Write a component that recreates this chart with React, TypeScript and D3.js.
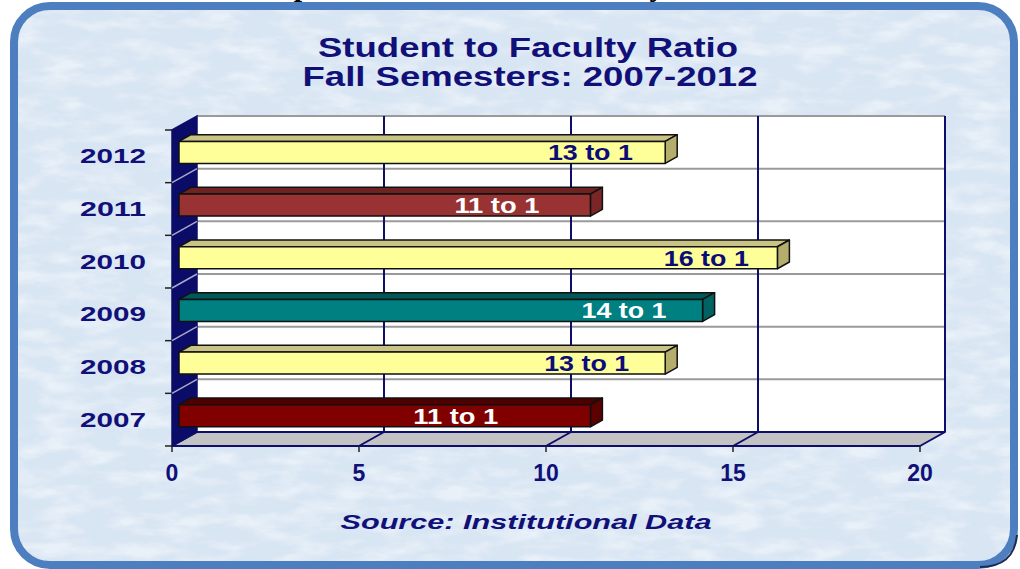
import React from "react";
import * as d3 from "d3";

const years = ["2012", "2011", "2010", "2009", "2008", "2007"];
const ratios = [13, 11, 16, 14, 13, 11];
const barLabels = ["13 to 1", "11 to 1", "16 to 1", "14 to 1", "13 to 1", "11 to 1"];
const labelCenters = [11.0, 8.5, 14.1, 11.9, 10.9, 7.4];
const xTicks = [0, 5, 10, 15, 20];
const titleLines = ["Student to Faculty Ratio", "Fall Semesters: 2007-2012"];
const sourceText = "Source:  Institutional  Data";

const frontColors = ["#ffff99", "#993333", "#ffff99", "#008080", "#ffff99", "#800000"];
const topColors = ["#c9c386", "#6e2222", "#c9c386", "#005858", "#c9c386", "#4e0000"];
const sideColors = ["#b4ad6c", "#7a2626", "#b4ad6c", "#006262", "#b4ad6c", "#5c0000"];
const labelColors = ["#0c0c78", "#ffffff", "#0c0c78", "#ffffff", "#0c0c78", "#ffffff"];

const W = 1020;
const H = 569;
const DX = 25;
const DY = 14;
const NAVY = "#0d0d6b";
const TXT = "#101078";

export default function App() {
  const x = d3.scaleLinear().domain([0, 20]).range([172, 920]);
  const yBack = d3.scaleBand().domain(years).range([116, 432]).paddingInner(0).paddingOuter(0);
  const backTop = 116;
  const backBot = 432;
  const bw = yBack.bandwidth();
  const tFront = 0.28;
  const tBack = 0.76;
  const barH = 22;

  const gridYs = years.map((y) => yBack(y) as number).concat([backBot]);

  return (
    <svg
      width={W}
      height={H}
      style={{ position: "absolute", left: 0, top: 0, display: "block", background: "#ffffff" }}
      fontFamily="Arial, 'Liberation Sans', sans-serif"
    >
      <defs>
        <filter id="tex" x="0" y="0" width="100%" height="100%">
          <feTurbulence type="fractalNoise" baseFrequency="0.025 0.07" numOctaves="4" seed="11" result="n" />
          <feColorMatrix
            in="n"
            type="matrix"
            values="0 0 0 0 1  0 0 0 0 1  0 0 0 0 1  0 0 0 -2.6 1.55"
          />
        </filter>
        <clipPath id="frameClip">
          <rect x={14} y={6} width={1000} height={559} rx={36} />
        </clipPath>
      </defs>

      {/* cut-off heading at very top */}
      <text x={302} y={-4} fontFamily="'Liberation Serif', serif" fontWeight="bold" fontSize={30} fill="#000" textAnchor="middle">p</text>
      <text x={657} y={-4} fontFamily="'Liberation Serif', serif" fontWeight="bold" fontSize={30} fill="#000" textAnchor="middle">y</text>

      {/* frame */}
      <rect x={14} y={6} width={1000} height={559} rx={36} fill="#d8e5f3" />
      <g clipPath="url(#frameClip)">
        <rect x={14} y={6} width={1000} height={559} fill="#ffffff" filter="url(#tex)" opacity={0.45} />
      </g>
      <rect x={14} y={6} width={1000} height={559} rx={36} fill="none" stroke="#4d7fc0" strokeWidth={8} />
      <path d="M 980 567 Q 1014 567 1017 535" fill="none" stroke="#1a2a50" strokeWidth={2} />

      {/* title */}
      {titleLines.map((t, i) => (
        <text
          key={t}
          x={i === 0 ? 528 : 530}
          y={i === 0 ? 57 : 86}
          textAnchor="middle"
          fontWeight="bold"
          fontSize={27}
          fill={TXT}
          textLength={i === 0 ? 420 : 455}
          lengthAdjust="spacingAndGlyphs"
        >
          {t}
        </text>
      ))}

      {/* back wall */}
      <rect x={x(0) + DX} y={backTop} width={x(20) - x(0)} height={backBot - backTop} fill="#ffffff" />
      {gridYs.slice(0, 6).map((gy, i) => (
        <line key={"hg" + i} x1={x(0) + DX} x2={x(20) + DX} y1={gy} y2={gy} stroke="#9a9a9a" strokeWidth={2} />
      ))}
      {xTicks.slice(1).map((v) => (
        <line key={"vg" + v} x1={x(v) + DX} x2={x(v) + DX} y1={backTop} y2={backBot} stroke={NAVY} strokeWidth={2} />
      ))}

      {/* floor */}
      <polygon
        points={`${x(0)},${backBot + DY} ${x(0) + DX},${backBot} ${x(20) + DX},${backBot} ${x(20)},${backBot + DY}`}
        fill="#c3c3c3"
        stroke={NAVY}
        strokeWidth={2}
        strokeLinejoin="round"
      />
      {xTicks.slice(1, 4).map((v) => (
        <line key={"fl" + v} x1={x(v) + DX} x2={x(v)} y1={backBot} y2={backBot + DY} stroke={NAVY} strokeWidth={2} />
      ))}

      {/* left wall */}
      <polygon
        points={`${x(0)},${backTop + DY} ${x(0) + DX},${backTop} ${x(0) + DX},${backBot} ${x(0)},${backBot + DY}`}
        fill="#0b0b68"
        stroke={NAVY}
        strokeWidth={1.5}
      />
      {gridYs.slice(1, 6).map((gy, i) => (
        <line key={"lw" + i} x1={x(0) + DX} x2={x(0)} y1={gy} y2={gy + DY} stroke="#a9a9c8" strokeWidth={1.5} />
      ))}

      {/* left axis ticks */}
      {gridYs.map((gy, i) => (
        <line key={"lt" + i} x1={x(0) - 7} x2={x(0)} y1={gy + DY} y2={gy + DY} stroke="#222" strokeWidth={1.5} />
      ))}
      {/* bottom axis ticks */}
      {xTicks.map((v) => (
        <line key={"bt" + v} x1={x(v)} x2={x(v)} y1={backBot + DY} y2={backBot + DY + 6} stroke="#222" strokeWidth={1.5} />
      ))}

      {/* bars */}
      {years.map((yr, i) => {
        const offF = 1 - tFront;
        const cy = (yBack(yr) as number) + bw / 2 + DY * offF;
        const x0 = x(0) + DX * tFront;
        const x1 = x(ratios[i]) + DX * tFront;
        const y0 = cy - barH / 2;
        const y1 = cy + barH / 2;
        const ddx = DX * (tBack - tFront);
        const ddy = -DY * (tBack - tFront);
        return (
          <g key={yr} stroke="#111" strokeWidth={1.5} strokeLinejoin="round">
            <polygon
              points={`${x0},${y0} ${x0 + ddx},${y0 + ddy} ${x1 + ddx},${y0 + ddy} ${x1},${y0}`}
              fill={topColors[i]}
            />
            <polygon
              points={`${x1},${y0} ${x1 + ddx},${y0 + ddy} ${x1 + ddx},${y1 + ddy} ${x1},${y1}`}
              fill={sideColors[i]}
            />
            <rect x={x0} y={y0} width={x1 - x0} height={barH} fill={frontColors[i]} />
            <text
              x={x(labelCenters[i]) + DX * tFront}
              y={cy + 8}
              textAnchor="middle"
              fontWeight="bold"
              fontSize={22}
              fill={labelColors[i]}
              stroke="none"
              textLength={85}
              lengthAdjust="spacingAndGlyphs"
            >
              {barLabels[i]}
            </text>
          </g>
        );
      })}

      {/* y labels */}
      {years.map((yr) => (
        <text
          key={"yl" + yr}
          x={146}
          y={(yBack(yr) as number) + bw / 2 + DY + 7}
          textAnchor="end"
          fontWeight="bold"
          fontSize={20}
          fill={TXT}
          textLength={66}
          lengthAdjust="spacingAndGlyphs"
        >
          {yr}
        </text>
      ))}

      {/* x tick labels */}
      {xTicks.map((v) => (
        <text key={"xl" + v} x={x(v)} y={481} textAnchor="middle" fontWeight="bold" fontSize={23} fill={TXT}>
          {v}
        </text>
      ))}

      {/* source */}
      <text
        x={526}
        y={529}
        textAnchor="middle"
        fontWeight="bold"
        fontStyle="italic"
        fontSize={20}
        fill={TXT}
        textLength={371}
        lengthAdjust="spacingAndGlyphs"
      >
        {sourceText}
      </text>
    </svg>
  );
}
